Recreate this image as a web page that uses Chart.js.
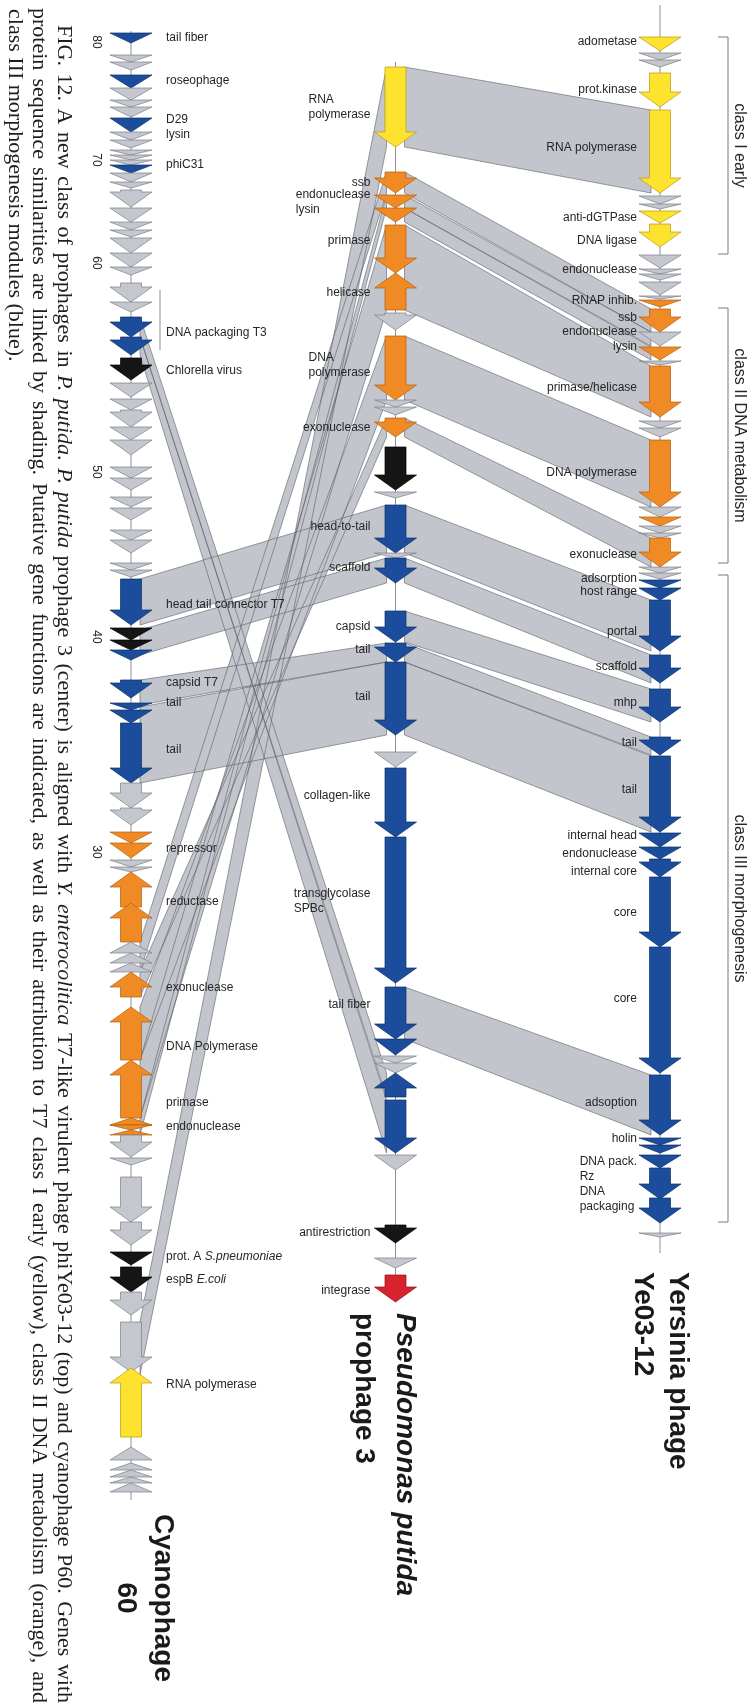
<!DOCTYPE html>
<html>
<head>
<meta charset="utf-8">
<script src="https://cdn.jsdelivr.net/npm/chart.js@4.4.1/dist/chart.umd.min.js"></script>
<style>
  html, body { margin: 0; padding: 0; background: #fff; }
  canvas { display: block; }
</style>
</head>
<body>
<canvas id="mapaGenomas" width="751" height="1708"></canvas>
<script>
// genomes, left to right
var genomas = ['Cyanophage 60', 'Pseudomonas putida prophage 3', 'Yersinia phage Ye03-12'];

// genes: [inicio, fim, classe, fita]  (map units along the drawing, fita -1 = reverse)
// classes: g = no match, y = class I early, o = class II DNA, b = class III morphogenesis, k = other match, r = integrase
var genesCyano = [
  [3.3, 4.3, 'b'], [5.5, 6.2, 'g'], [6.2, 7.0, 'g'], [7.5, 8.8, 'b'], [8.8, 10.0, 'g'],
  [10.0, 10.7, 'g'], [10.7, 11.7, 'g'], [11.8, 13.2, 'b'], [13.2, 14.0, 'g'], [14.0, 14.8, 'g'],
  [15.0, 15.5, 'g'], [15.5, 16.0, 'g'], [16.0, 16.5, 'g'], [16.5, 17.3, 'b'], [17.3, 18.2, 'g'],
  [18.2, 18.8, 'g'], [19.0, 20.7, 'g'], [20.8, 22.2, 'g'], [22.2, 23.0, 'g'], [23.0, 23.7, 'g'],
  [23.8, 25.3, 'g'], [25.3, 26.7, 'g'], [26.7, 27.5, 'g'], [28.3, 30.2, 'g'], [30.2, 31.2, 'g'],
  [31.7, 33.7, 'b'], [33.7, 35.5, 'b'], [35.8, 38.0, 'k'], [38.3, 39.7, 'g'], [39.9, 41.0, 'g'],
  [41.0, 42.7, 'g'], [42.7, 44.0, 'g'], [44.0, 45.5, 'g'], [46.7, 47.8, 'g'], [47.8, 49.0, 'g'],
  [49.7, 50.7, 'g'], [50.8, 52.0, 'g'], [53.0, 54.0, 'g'], [54.0, 55.3, 'g'], [56.3, 57.0, 'g'],
  [57.0, 57.7, 'g'], [57.9, 62.5, 'b'], [62.8, 64.0, 'k'], [64.0, 65.0, 'k'], [65.0, 66.0, 'b'],
  [68.0, 69.8, 'b'], [70.3, 71.0, 'b'], [71.0, 72.3, 'b'], [72.3, 78.3, 'b'], [78.3, 80.8, 'g'],
  [80.8, 82.5, 'g'], [83.2, 84.3, 'o'], [84.3, 85.8, 'o'], [86.0, 86.7, 'g'], [86.7, 87.2, 'g'],
  [87.2, 90.7, 'o', -1], [90.3, 94.2, 'o', -1], [94.2, 95.3, 'g', -1], [95.3, 96.3, 'g', -1],
  [96.3, 97.2, 'g', -1], [97.2, 99.7, 'o', -1], [100.7, 106.0, 'o', -1], [106.0, 111.8, 'o', -1],
  [111.8, 112.5, 'o', -1], [112.5, 113.0, 'o'], [113.0, 113.5, 'o', -1], [113.5, 115.7, 'g'],
  [115.8, 116.5, 'g'], [117.7, 122.2, 'g'], [122.2, 124.5, 'g'], [125.2, 126.5, 'k'],
  [126.7, 129.2, 'k'], [129.2, 131.5, 'g'], [132.2, 137.2, 'g'], [136.8, 143.7, 'y', -1],
  [144.7, 146.0, 'g', -1], [146.3, 147.0, 'g', -1], [147.0, 147.7, 'g', -1],
  [147.7, 148.3, 'g', -1], [148.3, 149.2, 'g', -1]
];

var genesPutida = [
  [6.7, 14.7, 'y'], [17.2, 19.3, 'o'], [19.5, 20.8, 'o'], [20.8, 22.2, 'o'], [22.5, 27.3, 'o'],
  [27.3, 31.0, 'o', -1], [31.3, 33.0, 'g'], [33.6, 40.0, 'o'], [40.0, 40.7, 'g'], [40.7, 41.5, 'g'],
  [41.8, 43.7, 'o'], [44.7, 49.0, 'k'], [49.2, 49.8, 'g'], [50.5, 55.3, 'b'], [55.3, 55.8, 'g'],
  [55.8, 58.3, 'b'], [61.1, 64.2, 'b'], [64.3, 66.2, 'b'], [66.2, 73.5, 'b'], [75.2, 76.7, 'g'],
  [76.8, 83.7, 'b'], [83.7, 98.3, 'b'], [98.7, 103.9, 'b'], [103.9, 105.5, 'b'], [105.6, 106.3, 'g'],
  [106.3, 107.3, 'g'], [107.3, 109.7, 'b', -1], [110.0, 115.3, 'b'], [115.5, 117.0, 'g'],
  [122.5, 124.3, 'k'], [125.8, 126.8, 'g'], [127.5, 130.2, 'r']
];

var genesYersinia = [
  [3.7, 5.1, 'y'], [5.3, 6.0, 'g'], [6.0, 6.7, 'g'], [7.3, 10.7, 'y'], [11.0, 19.3, 'y'],
  [19.6, 20.4, 'g'], [20.4, 20.9, 'g'], [21.1, 22.3, 'y'], [22.4, 24.7, 'y'], [25.5, 26.8, 'g'],
  [26.9, 27.4, 'g'], [27.4, 28.0, 'g'], [28.2, 29.5, 'g'], [29.6, 29.9, 'g'], [30.0, 30.7, 'o'],
  [30.9, 33.2, 'o'], [33.2, 34.6, 'g'], [34.7, 36.0, 'o'], [36.1, 36.5, 'g'], [36.6, 41.7, 'o'],
  [42.1, 42.8, 'g'], [42.8, 43.7, 'g'], [44.0, 50.7, 'o'], [50.7, 51.7, 'g'], [51.7, 52.6, 'o'],
  [52.6, 53.3, 'g'], [53.3, 53.8, 'g'], [53.8, 56.7, 'o'], [56.7, 57.3, 'g'], [57.3, 57.9, 'g'],
  [58.0, 58.8, 'b'], [58.8, 60.0, 'b'], [60.0, 65.1, 'b'], [65.5, 68.3, 'b'], [68.9, 72.2, 'b'],
  [73.7, 75.5, 'b'], [75.6, 83.2, 'b'], [83.3, 84.7, 'b'], [84.7, 85.9, 'b'], [85.9, 87.7, 'b'],
  [87.7, 94.7, 'b'], [94.7, 107.3, 'b'], [107.5, 113.5, 'b'], [113.8, 114.5, 'b'], [114.5, 115.3, 'b'],
  [115.5, 116.8, 'b'], [116.8, 119.9, 'b'], [119.8, 122.3, 'b'], [123.3, 123.7, 'g']
];

// genome extent (backbone line) per track
var extensoGenoma = [[3.1, 150.0], [6.2, 130.2], [0.5, 125.3]];

// similarity links: [genomaA, inicioA, fimA, genomaB, inicioB, fimB]
var ligacoes = [
  [0, 132.2, 137.5, 1, 6.7, 14.7],
  [0, 106.0, 111.8, 1, 22.5, 31.0],
  [0, 100.7, 106.0, 1, 33.6, 40.0],
  [0, 97.2, 99.7, 1, 41.8, 43.7],
  [0, 94.2, 97.2, 1, 17.2, 19.3],
  [0, 111.8, 113.5, 1, 19.5, 20.8],
  [0, 31.7, 33.7, 1, 107.3, 109.7],
  [0, 33.7, 35.5, 1, 110.0, 115.3],
  [0, 57.9, 62.5, 1, 50.5, 55.3],
  [0, 63.0, 65.5, 1, 55.8, 58.3],
  [0, 68.0, 70.5, 1, 64.3, 66.2],
  [0, 70.7, 78.3, 1, 66.2, 73.5],
  [1, 6.7, 14.7, 2, 11.0, 19.3],
  [1, 17.2, 19.3, 2, 30.9, 33.2],
  [1, 19.5, 20.8, 2, 33.2, 34.6],
  [1, 20.8, 22.2, 2, 34.7, 36.0],
  [1, 22.5, 31.0, 2, 36.6, 41.7],
  [1, 33.6, 40.0, 2, 44.0, 50.7],
  [1, 41.8, 43.7, 2, 53.8, 56.7],
  [1, 50.5, 55.3, 2, 60.0, 65.1],
  [1, 55.8, 58.3, 2, 65.5, 68.3],
  [1, 61.1, 64.2, 2, 68.9, 72.2],
  [1, 64.3, 66.2, 2, 73.7, 75.5],
  [1, 66.2, 73.5, 2, 75.6, 83.2],
  [1, 98.7, 103.9, 2, 107.5, 113.5]
];

// gene function labels: [texto, posicao]  (_..._ = italic)
var rotulosCyano = [
  ['tail fiber', 3.8], ['roseophage', 8.1], ['D29\nlysin', 12.0], ['phiC31', 16.5],
  ['DNA packaging T3', 33.3], ['Chlorella virus', 37.1], ['head tail connector T7', 60.5],
  ['capsid T7', 68.3], ['tail', 70.3], ['tail', 75.0], ['repressor', 84.9], ['reductase', 90.2],
  ['exonuclease', 98.8], ['DNA Polymerase', 104.7], ['primase', 110.3], ['endonuclease', 112.7],
  ['prot. A _S.pneumoniae_', 125.7], ['espB _E.coli_', 128.0], ['RNA polymerase', 138.5]
];
var rotulosPutida = [
  ['RNA\npolymerase', 10.0], ['ssb', 18.3], ['endonuclease\nlysin', 19.5], ['primase', 24.1],
  ['helicase', 29.3], ['DNA\npolymerase', 35.8], ['exonuclease', 42.8], ['head-to-tail', 52.7],
  ['scaffold', 56.8], ['capsid', 62.7], ['tail', 65.0], ['tail', 69.7], ['collagen-like', 79.6],
  ['transglycolase\nSPBc', 89.4], ['tail fiber', 100.5], ['antirestriction', 123.3], ['integrase', 129.1]
];
var rotulosYersinia = [
  ['adometase', 4.2], ['prot.kinase', 9.0], ['RNA polymerase', 14.8], ['anti-dGTPase', 21.8],
  ['DNA ligase', 24.1], ['endonuclease', 27.0], ['RNAP inhib.', 30.1], ['ssb', 31.8],
  ['endonuclease', 33.2], ['lysin', 34.7], ['primase/helicase', 38.8], ['DNA polymerase', 47.3],
  ['exonuclease', 55.5], ['adsorption', 57.9], ['host range', 59.2], ['portal', 63.2],
  ['scaffold', 66.7], ['mhp', 70.3], ['tail', 74.3], ['tail', 79.0], ['internal head', 83.6],
  ['endonuclease', 85.4], ['internal core', 87.2], ['core', 91.3], ['core', 99.9],
  ['adsoption', 110.3], ['holin', 113.9], ['DNA pack.\nRz\nDNA\npackaging', 116.2]
];

// gene number ticks on the cyanophage map
var ticksCyano = ['80', '70', '60', '50', '40', '30'];
var ticksCyanoPos = [4.2, 16.0, 26.3, 47.2, 63.7, 85.2];

// T7 transcription classes marked on Ye03-12
var classesT7 = ['class I early', 'class II DNA metabolism', 'class III morphogenesis'];
var classesT7Faixa = [[3.7, 25.4], [30.8, 56.3], [57.5, 122.2]];

// packaging module marker on the cyanophage map
var marcaEmpacotamento = [29.0, 35.0];

var titulos = [
  [['Cyanophage', '60']],
  [['_Pseudomonas putida_', 'prophage 3']],
  [['Yersinia phage', 'Ye03-12']]
];

var legenda = [
  'FIG. 12. A new class of prophages in _P. putida_. _P. putida_ prophage 3 (center) is aligned with _Y. enterocolitica_ T7-like virulent phage phiYe03-12 (top) and cyanophage P60. Genes with',
  'protein sequence similarities are linked by shading. Putative gene functions are indicated, as well as their attribution to T7 class I early (yellow), class II DNA metabolism (orange), and',
  'class III morphogenesis modules (blue).'
];

var cores = {
  g: ['#c5c7cf', '#7c7e88'],
  y: ['#fde22e', '#b89a10'],
  o: ['#f08a24', '#b0600f'],
  b: ['#1b4d9c', '#0c2f68'],
  k: ['#151515', '#000000'],
  r: ['#d8222e', '#8e0f18']
};

var FONTE_ROT = '12px "Liberation Sans", Arial, sans-serif';
var FONTE_ROT_IT = 'italic 12px "Liberation Sans", Arial, sans-serif';

// split "_italic_" markup into words made of styled pieces
function separarPalavras(texto) {
  var palavras = [], atual = [], it = false, buf = '';
  function fecha() { if (buf) { atual.push({ t: buf, it: it }); buf = ''; } }
  for (var i = 0; i < texto.length; i++) {
    var c = texto[i];
    if (c === '_') { fecha(); it = !it; }
    else if (c === ' ') { fecha(); if (atual.length) palavras.push(atual); atual = []; }
    else buf += c;
  }
  fecha();
  if (atual.length) palavras.push(atual);
  return palavras;
}

function larguraPalavra(ctx, p, f, fi) {
  var w = 0;
  p.forEach(function (s) { ctx.font = s.it ? fi : f; w += ctx.measureText(s.t).width; });
  return w;
}

function desenhaPalavra(ctx, p, x, y, f, fi) {
  p.forEach(function (s) {
    ctx.font = s.it ? fi : f;
    ctx.fillText(s.t, x, y);
    x += ctx.measureText(s.t).width;
  });
  return x;
}

function larguraLinha(ctx, texto, f, fi) {
  var ps = separarPalavras(texto);
  ctx.font = f;
  var esp = ctx.measureText(' ').width;
  var w = 0;
  ps.forEach(function (p, i) { w += larguraPalavra(ctx, p, f, fi) + (i ? esp : 0); });
  return w;
}

function desenhaLinha(ctx, texto, x, y, f, fi, largura) {
  var ps = separarPalavras(texto);
  ctx.font = f;
  var esp = ctx.measureText(' ').width;
  if (largura) {
    var soma = 0;
    ps.forEach(function (p) { soma += larguraPalavra(ctx, p, f, fi); });
    esp = (largura - soma) / (ps.length - 1);
  }
  ps.forEach(function (p) { x = desenhaPalavra(ctx, p, x, y, f, fi) + esp; });
}

function desenhaGene(ctx, cx, y0, y1, fita, cor) {
  var hw = 21, sw = 10.5, hl = 15;
  ctx.beginPath();
  if (y1 - y0 <= hl + 1) {
    if (fita > 0) { ctx.moveTo(cx - hw, y0); ctx.lineTo(cx + hw, y0); ctx.lineTo(cx, y1); }
    else { ctx.moveTo(cx, y0); ctx.lineTo(cx + hw, y1); ctx.lineTo(cx - hw, y1); }
  } else if (fita > 0) {
    var yh = y1 - hl;
    ctx.moveTo(cx - sw, y0); ctx.lineTo(cx + sw, y0); ctx.lineTo(cx + sw, yh); ctx.lineTo(cx + hw, yh);
    ctx.lineTo(cx, y1); ctx.lineTo(cx - hw, yh); ctx.lineTo(cx - sw, yh);
  } else {
    var yt = y0 + hl;
    ctx.moveTo(cx, y0); ctx.lineTo(cx + hw, yt); ctx.lineTo(cx + sw, yt); ctx.lineTo(cx + sw, y1);
    ctx.lineTo(cx - sw, y1); ctx.lineTo(cx - sw, yt); ctx.lineTo(cx - hw, yt);
  }
  ctx.closePath();
  ctx.fillStyle = cor[0];
  ctx.fill();
  ctx.strokeStyle = cor[1];
  ctx.lineWidth = 0.7;
  ctx.stroke();
}

// rotated text: reads top to bottom, glyph tops facing right
function textoVertical(ctx, xBase, yIni, desenha) {
  ctx.save();
  ctx.translate(xBase, yIni);
  ctx.rotate(Math.PI / 2);
  desenha();
  ctx.restore();
}

var pluginMapa = {
  id: 'mapaGenomas',
  beforeDraw: function (chart) {
    var c = chart.ctx;
    c.save();
    c.fillStyle = '#fff';
    c.fillRect(0, 0, chart.width, chart.height);
    c.restore();
  },
  afterDraw: function (chart) {
    var ctx = chart.ctx;
    var sx = chart.scales.x, sy = chart.scales.y;
    var px = function (i) { return sx.getPixelForValue(i); };
    var py = function (v) { return sy.getPixelForValue(v); };
    var recuoLig = 9;
    ctx.save();

    // shaded similarity links, all fills first then outlines
    var polis = ligacoes.map(function (l) {
      var xa = px(l[0]) + recuoLig, xb = px(l[3]) - recuoLig;
      return [[xa, py(l[1])], [xb, py(l[4])], [xb, py(l[5])], [xa, py(l[2])]];
    });
    polis.forEach(function (p) {
      ctx.beginPath();
      p.forEach(function (q, i) { i ? ctx.lineTo(q[0], q[1]) : ctx.moveTo(q[0], q[1]); });
      ctx.closePath();
      ctx.fillStyle = '#c3c5cd';
      ctx.fill();
    });
    polis.forEach(function (p) {
      ctx.beginPath();
      p.forEach(function (q, i) { i ? ctx.lineTo(q[0], q[1]) : ctx.moveTo(q[0], q[1]); });
      ctx.closePath();
      ctx.strokeStyle = '#5d5f66';
      ctx.lineWidth = 0.6;
      ctx.stroke();
    });

    // backbones
    extensoGenoma.forEach(function (e, i) {
      ctx.beginPath();
      ctx.moveTo(px(i), py(e[0]));
      ctx.lineTo(px(i), py(e[1]));
      ctx.strokeStyle = '#8d8f96';
      ctx.lineWidth = 1;
      ctx.stroke();
    });

    // genes
    [genesCyano, genesPutida, genesYersinia].forEach(function (lista, i) {
      lista.forEach(function (g) {
        desenhaGene(ctx, px(i), py(g[0]), py(g[1]), g[3] || 1, cores[g[2]]);
      });
    });

    // function labels
    var desloc = [35, -25, -23];
    [rotulosCyano, rotulosPutida, rotulosYersinia].forEach(function (lista, i) {
      var ax = px(i) + desloc[i];
      lista.forEach(function (r) {
        var linhas = r[0].split('\n');
        var larg = 0;
        linhas.forEach(function (l) { larg = Math.max(larg, larguraLinha(ctx, l, FONTE_ROT, FONTE_ROT_IT)); });
        var x0 = desloc[i] > 0 ? ax : ax - larg;
        ctx.fillStyle = '#262626';
        ctx.textBaseline = 'middle';
        linhas.forEach(function (l, k) {
          desenhaLinha(ctx, l, x0, py(r[1]) + k * 15, FONTE_ROT, FONTE_ROT_IT);
        });
      });
    });

    // gene number ticks
    ticksCyano.forEach(function (t, i) {
      textoVertical(ctx, px(0) - 35, py(ticksCyanoPos[i]), function () {
        ctx.font = FONTE_ROT;
        ctx.fillStyle = '#262626';
        ctx.textAlign = 'center';
        ctx.textBaseline = 'middle';
        ctx.fillText(t, 0, 0);
      });
    });

    // packaging marker line
    ctx.beginPath();
    ctx.moveTo(px(0) + 29, py(marcaEmpacotamento[0]));
    ctx.lineTo(px(0) + 29, py(marcaEmpacotamento[1]));
    ctx.strokeStyle = '#8d8f96';
    ctx.lineWidth = 1;
    ctx.stroke();

    // class brackets
    var xb = px(2) + 68;
    classesT7.forEach(function (nome, i) {
      var a = py(classesT7Faixa[i][0]), b = py(classesT7Faixa[i][1]);
      ctx.beginPath();
      ctx.moveTo(xb - 10, a); ctx.lineTo(xb, a); ctx.lineTo(xb, b); ctx.lineTo(xb - 10, b);
      ctx.strokeStyle = '#77797f';
      ctx.lineWidth = 1;
      ctx.stroke();
      textoVertical(ctx, xb + 7, (a + b) / 2, function () {
        ctx.font = '16px "Liberation Sans", Arial, sans-serif';
        ctx.fillStyle = '#262626';
        ctx.textAlign = 'center';
        ctx.textBaseline = 'alphabetic';
        ctx.fillText(nome, 0, 0);
      });
    });

    // genome titles
    var fT = 'bold 28px "Liberation Sans", Arial, sans-serif';
    var fTi = 'italic bold 28px "Liberation Sans", Arial, sans-serif';
    var baseTit = [[155, 118], [397, 356], [670, 635]];
    var iniTit = [1598, 1313, 1272];
    titulos.forEach(function (t, i) {
      t[0].forEach(function (linha, k) {
        textoVertical(ctx, baseTit[i][k], iniTit[i], function () {
          ctx.fillStyle = '#1a1a1a';
          ctx.textBaseline = 'alphabetic';
          var w = larguraLinha(ctx, linha, fT, fTi);
          desenhaLinha(ctx, linha, i === 0 ? -w / 2 : 0, 0, fT, fTi);
        });
      });
    });

    // figure legend
    var fL = '22px "Liberation Serif", "Times New Roman", serif';
    var fLi = 'italic 22px "Liberation Serif", "Times New Roman", serif';
    var baseLeg = [57.5, 33, 8.5];
    var iniLeg = [25, 8, 9];
    var fimLeg = 1703;
    legenda.forEach(function (l, i) {
      textoVertical(ctx, baseLeg[i], iniLeg[i], function () {
        ctx.fillStyle = '#1e1e1e';
        ctx.textBaseline = 'alphabetic';
        desenhaLinha(ctx, l, 0, 0, fL, fLi, i < legenda.length - 1 ? fimLeg - iniLeg[i] : 0);
      });
    });

    ctx.restore();
  }
};

var contexto = document.getElementById('mapaGenomas').getContext('2d');
var grafico = new Chart(contexto, {
  type: 'scatter',
  data: { labels: genomas, datasets: [] },
  options: {
    responsive: false,
    animation: false,
    layout: { padding: { left: 131, right: 91, top: 0, bottom: 0 } },
    scales: {
      x: { type: 'category', labels: genomas, offset: false, display: false },
      y: { type: 'linear', min: 0, max: 170.8, reverse: true, display: false }
    },
    plugins: { legend: { display: false }, tooltip: { enabled: false } }
  },
  plugins: [pluginMapa]
});
</script>
</body>
</html>
